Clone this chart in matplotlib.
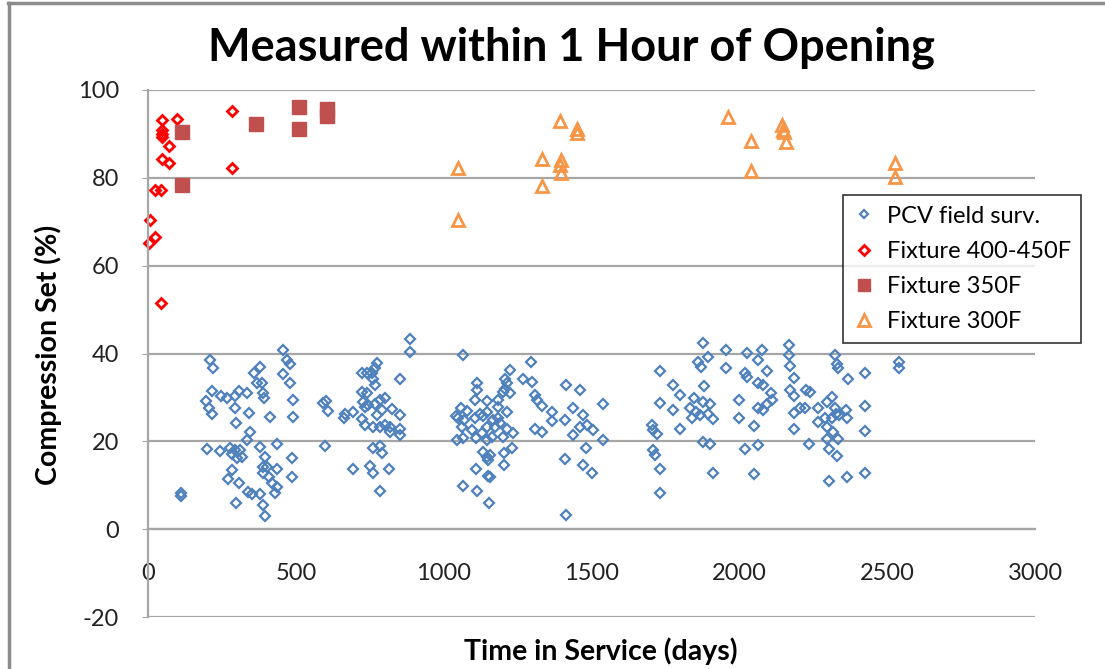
import matplotlib
matplotlib.use("Agg")
import matplotlib.pyplot as plt
from matplotlib.lines import Line2D

plt.rcParams['font.family'] = ['Lato', 'DejaVu Sans']
plt.rcParams['axes.unicode_minus'] = False

# PCV field survey points (days, compression set %)
pcv_days = [
    112, 112, 210, 221, 218, 196, 207, 218, 246, 266, 294, 309, 336, 294, 298, 343,
    413, 358, 379, 367, 384, 390, 392, 455, 469, 480, 455, 480, 491, 491, 345, 334,
    435, 198, 243, 277, 294, 311, 283, 300, 317, 379, 396, 390, 404, 435, 390, 410,
    418, 435, 429, 486, 486, 283, 272, 309, 339, 351, 379, 298, 390, 396, 602, 610,
    593, 599, 666, 694, 663, 723, 740, 756, 773, 768, 762, 768, 723, 740, 726, 734,
    745, 785, 801, 768, 790, 773, 824, 852, 723, 734, 762, 785, 801, 818, 852, 818,
    852, 760, 785, 790, 694, 751, 762, 816, 785, 852, 886, 886,
    1064, 1294, 1224, 1207, 1213, 1207, 1224, 1269, 1298, 1112, 1112, 1106, 1145, 1185,
    1057, 1078, 1042, 1069, 1106, 1134, 1145, 1185, 1213, 1061, 1145, 1174, 1213, 1233,
    1044, 1066, 1109, 1145, 1162, 1202, 1134, 1157, 1151, 1204, 1230, 1109, 1204, 1151,
    1064, 1114, 1154, 1309, 1314, 1331, 1365, 1365, 1309, 1331, 1414, 1461, 1436, 1472,
    1410, 1461, 1484, 1504, 1436, 1538, 1538, 1481, 1410, 1470, 1500, 1414, 1123, 1168,
    1190, 1095, 1128, 1185, 1202, 1145, 1157, 1050,
    1878, 1955, 2025, 2075, 2169, 2169, 2323, 1731, 1861, 1895, 1872, 1955, 2019, 2025,
    2064, 2094, 2171, 2185, 2329, 2335, 2368, 1777, 1801, 1880, 1731, 1777, 1846, 1833,
    1855, 1878, 1900, 1839, 1867, 1895, 1910, 1801, 1703, 1709, 1720, 1878, 1900, 1709,
    1715, 1731, 1731, 1910, 1999, 1999, 2049, 2064, 2081, 2106, 2064, 2081, 2092, 2109,
    2019, 2064, 2049, 2171, 2185, 2225, 2239, 2185, 2205, 2222, 2185, 2236, 2267, 2295,
    2315, 2323, 2360, 2267, 2290, 2312, 2338, 2295, 2318, 2295, 2335, 2304, 2331, 2304,
    2365, 2363, 2424, 2540, 2540, 2424, 2424, 2424, 2326,
]
pcv_set = [
    8.3, 7.6, 38.6, 36.8, 31.5, 29.2, 27.6, 26.3, 30.3, 29.9, 30.3, 31.5, 31.1, 27.7, 24.2, 26.5,
    25.6, 35.5, 37.0, 33.3, 33.2, 30.9, 29.8, 40.9, 38.5, 37.5, 35.3, 33.2, 29.4, 25.6, 22.2, 20.4,
    19.5, 18.2, 17.8, 18.4, 18.0, 18.1, 17.2, 16.1, 16.5, 18.8, 16.5, 14.2, 14.2, 13.8, 12.7, 11.9,
    10.4, 9.6, 8.3, 16.1, 11.9, 13.4, 11.5, 10.6, 8.5, 8.1, 8.1, 6.0, 5.5, 3.0, 29.2, 27.0,
    28.8, 18.9, 26.3, 26.7, 25.2, 35.5, 35.6, 35.6, 37.9, 36.6, 34.3, 32.8, 31.3, 31.1, 29.0, 27.9,
    28.2, 29.4, 29.8, 28.6, 27.1, 26.0, 27.3, 26.0, 25.0, 23.7, 23.3, 23.3, 23.7, 23.3, 22.9, 22.2,
    21.4, 18.4, 18.9, 17.4, 13.8, 14.4, 12.7, 13.8, 8.7, 34.3, 43.4, 40.4,
    39.6, 38.1, 36.2, 34.3, 33.2, 32.0, 30.9, 34.3, 33.6, 33.2, 31.7, 29.4, 29.2, 29.4,
    27.7, 26.9, 25.7, 24.8, 25.2, 25.7, 26.7, 25.2, 26.7, 23.2, 23.3, 23.3, 22.9, 22.0,
    20.3, 20.7, 20.7, 20.3, 21.0, 20.9, 17.6, 16.9, 15.7, 17.4, 18.4, 13.6, 14.6, 12.1,
    9.8, 8.7, 6.0, 30.5, 29.4, 28.0, 26.7, 24.7, 22.9, 22.2, 32.8, 31.7, 27.7, 26.0,
    24.8, 23.3, 23.7, 22.6, 21.4, 28.5, 20.3, 18.4, 15.9, 14.6, 12.7, 3.3, 26.3, 24.8,
    24.1, 22.6, 21.8, 27.9, 31.3, 16.5, 11.9, 25.2,
    42.4, 40.9, 40.2, 40.9, 41.9, 39.6, 39.6, 36.1, 38.1, 39.3, 37.0, 36.8, 35.5, 34.7,
    38.6, 36.1, 37.1, 34.5, 37.7, 36.8, 34.3, 32.8, 30.5, 32.6, 28.8, 27.1, 29.8, 27.5,
    26.7, 29.0, 28.6, 25.4, 26.0, 26.3, 25.0, 22.7, 23.7, 22.6, 21.6, 19.9, 19.5, 18.0,
    16.9, 13.8, 8.3, 12.7, 29.4, 25.4, 23.5, 33.2, 32.8, 30.9, 27.7, 27.1, 28.5, 29.4,
    18.2, 19.1, 12.5, 31.8, 30.3, 31.8, 31.3, 26.5, 27.5, 27.7, 22.9, 19.5, 27.7, 29.0,
    30.1, 27.5, 27.1, 24.5, 25.4, 25.4, 26.0, 23.3, 22.2, 20.6, 20.6, 18.2, 16.6, 11.0,
    11.9, 25.2, 35.5, 38.1, 36.6, 28.0, 22.4, 12.7, 26.3,
]

# Fixture 400-450F
f450_days = [46, 97, 46, 46, 46, 72, 283, 46, 72, 283, 24, 43, 7, 24, 4, 43]
f450_set = [93.2, 93.3, 91.0, 90.0, 89.4, 87.3, 95.2, 84.4, 83.3, 82.3, 77.2, 77.2, 70.4, 66.6, 65.2, 51.5]

# Fixture 350F
f350_days = [114, 114, 364, 511, 511, 605, 605]
f350_set = [90.5, 78.4, 92.2, 96.2, 91.1, 95.6, 94.0]

# Fixture 300F
f300_days = [1050, 1050, 1392, 1450, 1450, 1332, 1398, 1392, 1398, 1332,
             1960, 2145, 2147, 2150, 2159, 2038, 2038, 2525, 2525]
f300_set = [82.2, 70.4, 93.0, 91.2, 90.2, 84.3, 84.0, 82.9, 81.2, 78.1,
            93.8, 92.0, 90.9, 90.4, 88.2, 88.4, 81.6, 83.3, 80.3]

fig = plt.figure(figsize=(11.05, 6.69), dpi=100)
ax = fig.add_axes([148 / 1105, 1 - 617 / 669, (1035 - 148) / 1105, (617 - 90) / 669])

grid_c = '#a6a6a6'
ax.plot(pcv_days, pcv_set, 'D', ls='none', ms=4.6, mfc='none', mec='#4f81bd', mew=1.6,
        label='PCV field surv.', clip_on=False)
ax.plot(f450_days, f450_set, 'D', ls='none', ms=5.4, mfc='none', mec='#ff0000', mew=2.0,
        label='Fixture 400-450F', clip_on=False)
ax.plot(f350_days, f350_set, 's', ls='none', ms=10, color='#c0504d',
        label='Fixture 350F', clip_on=False)
ax.plot(f300_days, f300_set, '^', ls='none', ms=9, mfc='none', mec='#f79646', mew=2.0,
        label='Fixture 300F', clip_on=False)

ax.set_xlim(0, 3000)
ax.set_ylim(-20, 100)
ax.set_xticks(range(0, 3001, 500))
ax.set_yticks(range(-20, 101, 20))
ax.yaxis.grid(True, color=grid_c, lw=1.6)
ax.set_axisbelow(True)

for s in ['top', 'right']:
    ax.spines[s].set_visible(False)
ax.spines['left'].set_color(grid_c)
ax.spines['left'].set_linewidth(1.6)
ax.spines['bottom'].set_position(('data', 0))
ax.spines['bottom'].set_color(grid_c)
ax.spines['bottom'].set_linewidth(1.6)

ax.tick_params(axis='y', length=4, color=grid_c, labelsize=17, pad=17, labelcolor='#222222')
ax.tick_params(axis='x', length=0, labelsize=17, pad=24, labelcolor='#222222')

fig.text(571 / 1105, 1 - 48 / 669, 'Measured within 1 Hour of Opening',
         ha='center', va='center', fontsize=32.5, fontweight='bold')
fig.text(601 / 1105, 1 - 651 / 669, 'Time in Service (days)',
         ha='center', va='center', fontsize=20.5, fontweight='bold')
fig.text(48 / 1105, 1 - 355 / 669, 'Compression Set (%)',
         ha='center', va='center', rotation=90, fontsize=20.5, fontweight='bold')

leg = ax.legend(loc='upper left', bbox_to_anchor=(843 / 1105, 1 - 195 / 669),
                bbox_transform=fig.transFigure, fontsize=17, frameon=True,
                fancybox=False, edgecolor='black', borderpad=0.45, labelspacing=0.6,
                handlelength=0.9, handletextpad=0.5, borderaxespad=0, markerscale=0.9)
leg.get_frame().set_linewidth(1.2)

# chart border (top and left edges)
fig.add_artist(Line2D([8 / 1105, 1], [1 - 3 / 669, 1 - 3 / 669], color='#8c8c8c', lw=2.5))
fig.add_artist(Line2D([9 / 1105, 9 / 1105], [0, 1 - 3 / 669], color='#8c8c8c', lw=2.5))

fig.savefig('out.png', dpi=100)
